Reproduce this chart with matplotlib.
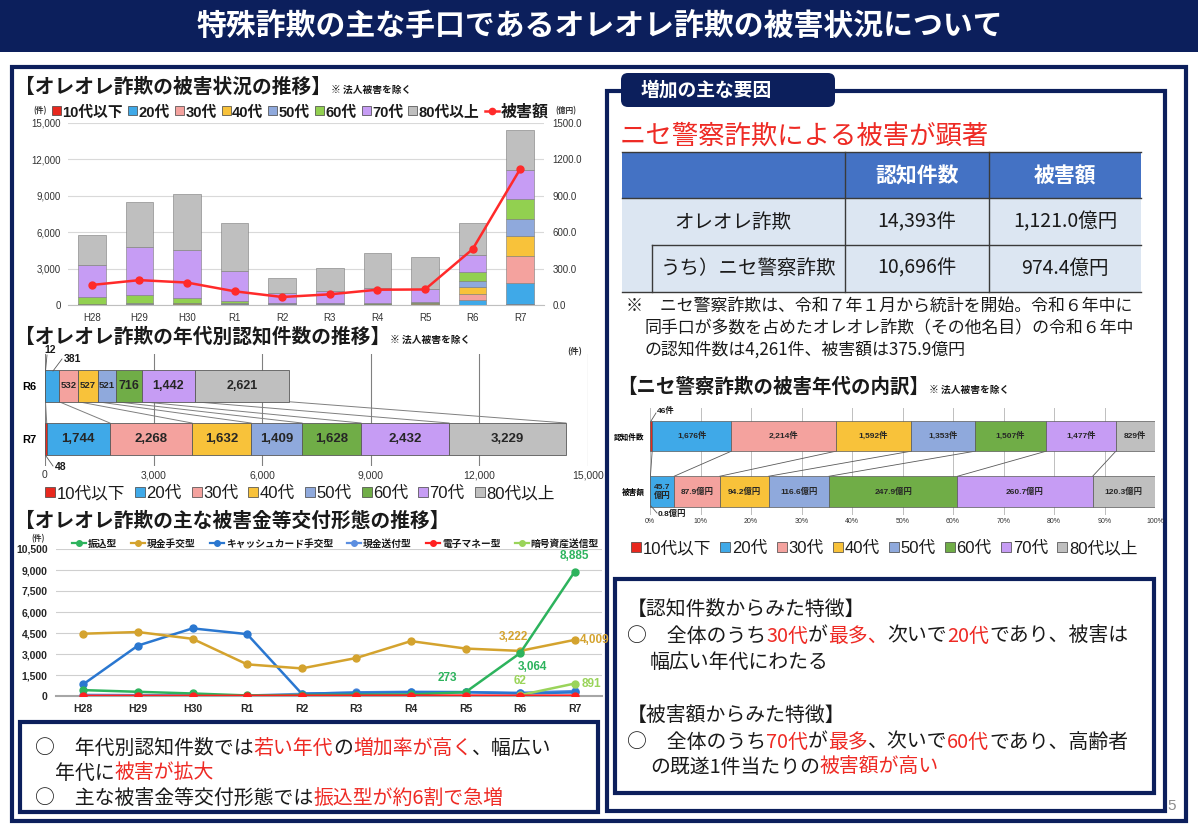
import matplotlib
matplotlib.use('Agg')
import matplotlib.pyplot as plt
from matplotlib.patches import Rectangle, FancyBboxPatch
from matplotlib.lines import Line2D
import numpy as np

JP = ['Noto Sans CJK JP', 'DejaVu Sans']
NUM = ['Liberation Sans', 'Noto Sans CJK JP', 'DejaVu Sans']
plt.rcParams['font.family'] = JP

NAVY = '#0c1f5c'
RED = '#ee2a24'

# ---------------- data ----------------
years = ['H28', 'H29', 'H30', 'R1', 'R2', 'R3', 'R4', 'R5', 'R6', 'R7']
age_labels = ['10代以下', '20代', '30代', '40代', '50代', '60代', '70代', '80代以上']
age10 = [5, 5, 10, 10, 10, 10, 10, 10, 12, 48]
age20 = [10, 15, 40, 30, 30, 30, 20, 40, 381, 1744]
age30 = [15, 20, 40, 30, 30, 30, 20, 40, 532, 2268]
age40 = [20, 30, 40, 30, 25, 25, 20, 40, 527, 1632]
age50 = [40, 110, 70, 40, 30, 30, 30, 50, 521, 1409]
age60 = [600, 650, 380, 190, 80, 80, 60, 70, 716, 1628]
age70 = [2610, 3930, 3960, 2440, 795, 925, 1220, 1080, 1442, 2432]
age80 = [2480, 3720, 4600, 3970, 1260, 1955, 2910, 2590, 2621, 3229]
damage_oku = [165, 205, 185, 113, 66, 88, 126, 128, 460, 1121.0]

r6_counts = [12, 381, 532, 527, 521, 716, 1442, 2621]
r7_counts = [48, 1744, 2268, 1632, 1409, 1628, 2432, 3229]

pay_labels = ['振込型', '現金手交型', 'キャッシュカード手交型', '現金送付型', '電子マネー型', '暗号資産送信型']
furikomi = [420, 300, 180, 40, 70, 90, 110, 273, 3064, 8885]
genkin_teko = [4450, 4570, 4085, 2260, 1970, 2715, 3920, 3390, 3222, 4009]
cashcard = [840, 3600, 4830, 4420, 170, 230, 270, 270, 180, 260]
genkin_sofu = [80, 60, 40, 30, 150, 260, 300, 280, 230, 350]
emoney = [10, 10, 10, 10, 20, 20, 30, 30, 20, 30]
crypto = [np.nan] * 8 + [62, 891]

nise_rows = ['認知件数', '被害額']
nise_counts = [46, 1676, 2214, 1592, 1353, 1507, 1477, 829]
nise_damage = [0.8, 45.7, 87.9, 94.2, 116.6, 247.9, 260.7, 120.3]

table_cols = ['認知件数', '被害額']
table_rows = ['オレオレ詐欺', 'うち）ニセ警察詐欺']
table_counts = ['14,393件', '10,696件']
table_damage = ['1,121.0億円', '974.4億円']

age_colors1 = ['#e8281e', '#3fa9e8', '#f4a29e', '#f8c23a', '#8fa9dc', '#92d050', '#c69cf4', '#bfbfbf']
age_colors2 = ['#e8281e', '#3fa9e8', '#f4a29e', '#f8c23a', '#8fa9dc', '#70ad47', '#c69cf4', '#bfbfbf']
pay_colors = ['#2db35d', '#d4a32e', '#2a77d0', '#5b8ee0', '#ff2020', '#9ad45a']

# ---------------- figure ----------------
W, H = 1198, 830
fig = plt.figure(figsize=(W / 100, H / 100), dpi=100)
fig.patch.set_facecolor('white')
R = fig.canvas.get_renderer()


def axpx(x0, y0, x1, y1):
    return fig.add_axes([x0 / W, 1 - y1 / H, (x1 - x0) / W, (y1 - y0) / H])


def clean(ax):
    for s in ax.spines.values():
        s.set_visible(False)
    ax.patch.set_alpha(0)


bg = axpx(0, 0, W, H)
bg.set_xlim(0, W); bg.set_ylim(H, 0); bg.axis('off')

# title bar
bg.add_patch(Rectangle((0, 0), W, 52, facecolor=NAVY, edgecolor='none'))
# frames
bg.add_patch(Rectangle((12, 67), 1174, 754, facecolor='none', edgecolor=NAVY, lw=3))
bg.add_patch(Rectangle((607, 91), 558, 720, facecolor='none', edgecolor=NAVY, lw=3))
bg.add_patch(FancyBboxPatch((621, 73), 214, 34, boxstyle='round,pad=0,rounding_size=7',
                            facecolor=NAVY, edgecolor='none'))
# bottom boxes
bg.add_patch(Rectangle((20, 722), 578, 90, facecolor='white', edgecolor=NAVY, lw=3))
bg.add_patch(Rectangle((615, 579), 539, 214, facecolor='white', edgecolor=NAVY, lw=3))

# table
tx = [622, 845, 989, 1141]
ty = [152, 198, 245, 292]
bg.add_patch(Rectangle((tx[0], ty[0]), tx[3] - tx[0], ty[1] - ty[0], facecolor='#4472c4', edgecolor='none'))
bg.add_patch(Rectangle((tx[0], ty[1]), tx[3] - tx[0], ty[3] - ty[1], facecolor='#dce6f2', edgecolor='none'))
lc = '#3a3a3a'
for yy in [ty[0], ty[1], ty[3]]:
    bg.plot([tx[0], tx[3]], [yy, yy], color=lc, lw=1)
bg.plot([652, tx[3]], [ty[2], ty[2]], color=lc, lw=1)
bg.plot([652, 652], [ty[2], ty[3]], color=lc, lw=1)
for xx in [tx[1], tx[2]]:
    bg.plot([xx, xx], [ty[0], ty[3]], color=lc, lw=1)

# ---------------- chart 1: stacked bars + damage line ----------------
ax1 = axpx(68, 123, 544, 305)
clean(ax1)
xi = np.arange(len(years))
bottom = np.zeros(len(years))
for vals, col in zip([age10, age20, age30, age40, age50, age60, age70, age80], age_colors1):
    ax1.bar(xi, vals, 0.58, bottom=bottom, color=col, edgecolor='#7a7a7a', linewidth=0.4, zorder=3)
    bottom += np.array(vals)
ax1.set_xlim(-0.5, 9.5)
ax1.set_ylim(0, 15000)
ax1.set_yticks(range(0, 15001, 3000))
ax1.set_yticklabels([f'{v:,}' for v in range(0, 15001, 3000)])
ax1.set_xticks(xi)
ax1.set_xticklabels(years)
ax1.grid(axis='y', color='#d9d9d9', lw=0.8, zorder=0)
ax1.set_axisbelow(True)
ax1.spines['bottom'].set_visible(True)
ax1.spines['bottom'].set_color('#bfbfbf')
ax1.tick_params(length=0, labelsize=7, colors='#333333', labelfontfamily='Liberation Sans')
ax1.tick_params(axis='y', pad=5)
ax1.tick_params(axis='x', pad=6)
ax1b = ax1.twinx()
clean(ax1b)
ax1b.set_ylim(0, 1500)
ax1b.set_yticks(range(0, 1501, 300))
ax1b.set_yticklabels([f'{v:.1f}' for v in range(0, 1501, 300)])
ax1b.tick_params(length=0, labelsize=7, colors='#333333', pad=6, labelfontfamily='Liberation Sans')
ax1b.plot(xi, damage_oku, color='#ff2a2a', lw=1.8, marker='o', ms=5, zorder=5)

# ---------------- chart 2: R6 / R7 horizontal stacked ----------------
ax2 = axpx(45, 354, 588, 466)
clean(ax2)
cum6 = np.cumsum(r6_counts)
cum7 = np.cumsum(r7_counts)
ax2.barh(1, r6_counts, left=cum6 - np.array(r6_counts), height=0.6, color=age_colors2,
         edgecolor='#595959', lw=0.6, zorder=3)
ax2.barh(0, r7_counts, left=cum7 - np.array(r7_counts), height=0.6, color=age_colors2,
         edgecolor='#595959', lw=0.6, zorder=3)
for c6, c7 in zip(cum6, cum7):
    ax2.plot([c6, c7], [0.7, 0.3], color='#7f7f7f', lw=0.7, zorder=2)
ax2.set_xlim(0, 15000)
ax2.set_ylim(-0.51, 1.6)
ax2.set_xticks(range(0, 15001, 3000))
ax2.set_xticklabels([f'{v:,}' for v in range(0, 15001, 3000)])
ax2.grid(axis='x', color='#808080', lw=0.8, zorder=0)
ax2.set_axisbelow(True)
ax2.set_yticks([1, 0])
ax2.set_yticklabels(['R6', 'R7'], fontweight='bold', fontsize=8, family=NUM)
ax2.tick_params(axis='x', length=0, labelsize=7.5, colors='#333333', pad=3, labelfontfamily='Liberation Sans')
ax2.tick_params(axis='y', length=0, pad=6)
r6_sizes = [0, 0, 6.8, 6.8, 6.8, 9, 9, 9]
for i in range(2, 8):
    ax2.text(cum6[i] - r6_counts[i] / 2, 1, f'{r6_counts[i]:,}', ha='center', va='center',
             fontsize=r6_sizes[i], fontweight='bold', family=NUM, color='#262626', zorder=5)
for i in range(1, 8):
    ax2.text(cum7[i] - r7_counts[i] / 2, 0, f'{r7_counts[i]:,}', ha='center', va='center',
             fontsize=9.5, fontweight='bold', family=NUM, color='#262626', zorder=5)

# ---------------- chart 3: payment methods lines ----------------
ax3 = axpx(56, 549, 602, 696)
clean(ax3)
pay_series = [furikomi, genkin_teko, cashcard, genkin_sofu, emoney, crypto]
for idx in [3, 2, 1, 0, 5, 4]:
    ax3.plot(xi, pay_series[idx], color=pay_colors[idx], lw=1.8, marker='o', ms=5, zorder=4)
ax3.set_xlim(-0.5, 9.5)
ax3.set_ylim(0, 10500)
ax3.set_yticks(range(0, 10501, 1500))
ax3.set_yticklabels([f'{v:,}' for v in range(0, 10501, 1500)])
ax3.set_xticks(xi)
ax3.set_xticklabels(years)
ax3.grid(axis='y', color='#cfcfcf', lw=0.8, zorder=0)
ax3.set_axisbelow(True)
ax3.spines['bottom'].set_visible(True)
ax3.spines['bottom'].set_color('#a6a6a6')
ax3.spines['bottom'].set_linewidth(1.5)
ax3.tick_params(length=0, labelsize=7.5, colors='#262626', labelfontfamily='Liberation Sans')
for lab in ax3.get_xticklabels() + ax3.get_yticklabels():
    lab.set_fontweight('bold')
ax3.tick_params(axis='y', pad=6)
ax3.tick_params(axis='x', pad=6)


def ann(ax, xv, yv, s, col, dx, dy, ha='center'):
    ax.annotate(s, (xv, yv), xytext=(dx, dy), textcoords='offset points', ha=ha, va='center',
                fontsize=8.5, fontweight='bold', color=col, family=NUM, zorder=6)


ann(ax3, 9, furikomi[9], f'{furikomi[9]:,}', pay_colors[0], 0, 11)
ann(ax3, 9, genkin_teko[9], f'{genkin_teko[9]:,}', pay_colors[1], 4, 0, ha='left')
ann(ax3, 8, genkin_teko[8], f'{genkin_teko[8]:,}', pay_colors[1], -5, 10)
ann(ax3, 8, furikomi[8], f'{furikomi[8]:,}', pay_colors[0], 9, -10)
ann(ax3, 7, furikomi[7], f'{furikomi[7]:,}', pay_colors[0], -13, 10)
ann(ax3, 8, crypto[8], f'{crypto[8]:,}', pay_colors[5], 0, 10)
ann(ax3, 9, crypto[9], f'{crypto[9]:,}', pay_colors[5], 5, 0, ha='left')

# ---------------- chart 4: ニセ警察詐欺 100% bars ----------------
ax4 = axpx(650, 408, 1155, 515)
clean(ax4)
fc = np.array(nise_counts) / sum(nise_counts)
fd = np.array(nise_damage) / sum(nise_damage)
cfc = np.cumsum(fc)
cfd = np.cumsum(fd)
ax4.barh(1, fc, left=cfc - fc, height=0.55, color=age_colors2, edgecolor='#595959', lw=0.5, zorder=3)
ax4.barh(0, fd, left=cfd - fd, height=0.55, color=age_colors2, edgecolor='#595959', lw=0.5, zorder=3)
for a, b in zip(cfc, cfd):
    ax4.plot([a, b], [0.725, 0.275], color='#595959', lw=0.6, zorder=2)
ax4.set_xlim(0, 1)
ax4.set_ylim(-0.42, 1.5)
ax4.set_xticks(np.linspace(0, 1, 11))
ax4.set_xticklabels([f'{int(v)}%' for v in np.linspace(0, 100, 11)])
ax4.grid(axis='x', color='#bfbfbf', lw=0.7, zorder=0)
ax4.set_axisbelow(True)
ax4.set_yticks([1, 0])
ax4.set_yticklabels(nise_rows, fontsize=5.5, fontweight='bold')
ax4.tick_params(axis='x', length=0, labelsize=5, colors='#333333', pad=2, labelfontfamily='Liberation Sans')
ax4.tick_params(axis='y', length=0, pad=4)
for i in range(1, 8):
    ax4.text(cfc[i] - fc[i] / 2, 1, f'{nise_counts[i]:,}件', ha='center', va='center', fontsize=6,
             fontweight='bold', family=NUM, color='#262626', zorder=5)
    lab = f'{nise_damage[i]}\n億円' if i == 1 else f'{nise_damage[i]}億円'
    ax4.text(cfd[i] - fd[i] / 2, 0, lab, ha='center', va='center', fontsize=6, linespacing=1.1,
             fontweight='bold', family=NUM, color='#262626', zorder=5)

# ---------------- overlay texts ----------------
ov = axpx(0, 0, W, H)
ov.set_xlim(0, W); ov.set_ylim(H, 0); ov.axis('off')
ov.set_zorder(10)


def base(yc, size):
    return yc + 0.38 * size / 0.72


def rich(x, yc, segs, ref=None):
    sz0 = ref if ref else segs[0][2]
    yb = base(yc, sz0)
    for s, c, sz, w in segs:
        t = ov.text(x, yb, s, color=c, fontsize=sz, fontweight=w, va='baseline', ha='left', family=JP)
        x += t.get_window_extent(renderer=R).width
    return x


K = '#1a1a1a'
ov.text(600, 26, '特殊詐欺の主な手口であるオレオレ詐欺の被害状況について', color='white',
        fontsize=21.5, fontweight='bold', ha='center', va='center')
ov.text(641, 90, '増加の主な要因', color='white', fontsize=13.5, fontweight='bold', ha='left', va='center')

rich(15, 85, [('【オレオレ詐欺の被害状況の推移】', K, 14.2, 'bold'), ('※ 法人被害を除く', K, 7, 'bold')])
rich(15, 335, [('【オレオレ詐欺の年代別認知件数の推移】', K, 14.2, 'bold'), ('※ 法人被害を除く', K, 7, 'bold')])
rich(15, 519, [('【オレオレ詐欺の主な被害金等交付形態の推移】', K, 14.2, 'bold')])
rich(617, 385, [('【ニセ警察詐欺の被害年代の内訳】', K, 14, 'bold'), ('※ 法人被害を除く', K, 7, 'bold')])
rich(620, 134, [('ニセ警察詐欺による被害が顕著', RED, 19, 'normal')])

# table text
ov.text((tx[1] + tx[2]) / 2, 176, table_cols[0], color='white', fontsize=15, fontweight='bold', ha='center', va='center')
ov.text((tx[2] + tx[3]) / 2, 176, table_cols[1], color='white', fontsize=15, fontweight='bold', ha='center', va='center')
ov.text(733, 222, table_rows[0], color=K, fontsize=14, ha='center', va='center')
ov.text(749, 268, table_rows[1], color=K, fontsize=14, ha='center', va='center')
for i, yc in enumerate([222, 268]):
    ov.text((tx[1] + tx[2]) / 2, yc, table_counts[i], color=K, fontsize=14, ha='center', va='center')
    ov.text((tx[2] + tx[3]) / 2, yc, table_damage[i], color=K, fontsize=14, ha='center', va='center')

# note
rich(626, 305, [('※　ニセ警察詐欺は、令和７年１月から統計を開始。令和６年中に', K, 12.2, 'normal')])
rich(645, 327, [('同手口が多数を占めたオレオレ詐欺（その他名目）の令和６年中', K, 12.2, 'normal')])
rich(645, 348, [('の認知件数は4,261件、被害額は375.9億円', K, 12.2, 'normal')])

# bottom-left box
S1 = 14.3
rich(35, 746, [('○　年代別認知件数では', K, S1, 'normal'), ('若い年代', RED, S1, 'normal'), ('の', K, S1, 'normal'),
               ('増加率が高く', RED, S1, 'normal'), ('、幅広い', K, S1, 'normal')])
rich(55, 771, [('年代に', K, S1, 'normal'), ('被害が拡大', RED, S1, 'normal')])
rich(35, 797, [('○　主な被害金等交付形態では', K, S1, 'normal'), ('振込型が約6割で急増', RED, S1, 'normal')])

# right text box
S2 = 14.3
rich(627, 607, [('【認知件数からみた特徴】', K, S2, 'normal')])
rich(627, 634, [('○　全体のうち', K, S2, 'normal'), ('30代', RED, S2, 'normal'), ('が', K, S2, 'normal'),
                ('最多、', RED, S2, 'normal'), ('次いで', K, S2, 'normal'), ('20代', RED, S2, 'normal'),
                ('であり、被害は', K, S2, 'normal')])
rich(650, 660, [('幅広い年代にわたる', K, S2, 'normal')])
rich(627, 714, [('【被害額からみた特徴】', K, S2, 'normal')])
rich(627, 740, [('○　全体のうち', K, S2, 'normal'), ('70代', RED, S2, 'normal'), ('が', K, S2, 'normal'),
                ('最多', RED, S2, 'normal'), ('、次いで', K, S2, 'normal'), ('60代', RED, S2, 'normal'),
                ('であり、高齢者', K, S2, 'normal')])
rich(650, 765, [('の既遂1件当たりの', K, S2, 'normal'), ('被害額が高い', RED, S2, 'normal')])

ov.text(1172, 806, '5', color='#8c8c8c', fontsize=11, ha='center', va='center', family=NUM)


# legends
def legend_row(x, yc, labels, colors, size, sq, gap, weight='bold'):
    for label, col in zip(labels, colors):
        ov.add_patch(Rectangle((x, yc - sq / 2), sq, sq, facecolor=col, edgecolor='#404040', lw=0.5))
        x += sq + 1.5
        t = ov.text(x, base(yc, size), label, fontsize=size, fontweight=weight, va='baseline', ha='left',
                    color=K, family=NUM)
        x += t.get_window_extent(renderer=R).width + gap
    return x


ov.text(40, 111, '(件)', fontsize=5.5, fontweight='bold', ha='center', va='center', color='#333333')
xe = legend_row(52, 111, age_labels, age_colors1, 10.6, 9, 5)
ov.add_line(Line2D([xe, xe + 14], [111, 111], color='#ff2a2a', lw=1.8))
ov.plot([xe + 7], [111], marker='o', color='#ff2a2a', ms=4.5)
t = ov.text(xe + 16, base(111, 11.5), '被害額', fontsize=11.5, fontweight='bold', va='baseline', color=K)
xe2 = xe + 16 + t.get_window_extent(renderer=R).width
ov.text(xe2 + 17, 111, '(億円)', fontsize=5.5, fontweight='bold', ha='center', va='center', color='#333333')

legend_row(45, 492, age_labels, age_colors2, 12, 10, 10, weight='normal')
legend_row(631, 547, age_labels, age_colors2, 12, 10, 9.5, weight='normal')

# chart 2 misc labels
ov.text(575, 352, '(件)', fontsize=6, fontweight='bold', ha='center', va='center', color='#333333')
ov.text(50, 350, f'{r6_counts[0]}', fontsize=7.5, fontweight='bold', ha='center', va='center', family=NUM, color=K)
ov.plot([47, 45.5], [355, 371], color='#595959', lw=0.6)
ov.text(72, 359, f'{r6_counts[1]}', fontsize=7.5, fontweight='bold', ha='center', va='center', family=NUM, color=K)
ov.plot([62, 53], [359, 371], color='#595959', lw=0.6)
ov.text(61, 467, f'{r7_counts[0]}', fontsize=7.5, fontweight='bold', ha='center', va='center', family=NUM, color=K)
ov.plot([46, 53], [456, 466], color='#595959', lw=0.6)

# chart 3 misc
ov.text(38, 539, '(件)', fontsize=5.5, fontweight='bold', ha='center', va='center', color='#333333')
xx = 72
for lab, col in zip(pay_labels, pay_colors):
    ov.add_line(Line2D([xx, xx + 14], [543, 543], color=col, lw=1.6))
    ov.plot([xx + 7], [543], marker='o', color=col, ms=4)
    t = ov.text(xx + 16, base(543, 7), lab, fontsize=7, fontweight='bold', va='baseline', color=K)
    xx += 16 + t.get_window_extent(renderer=R).width + 14

# chart 4 misc
ov.text(657, 411, f'{nise_counts[0]}件', fontsize=6, fontweight='bold', ha='left', va='center', family=NUM, color=K)
ov.plot([656, 651], [413, 421], color='#595959', lw=0.6)
ov.text(658, 514, f'{nise_damage[0]}億円', fontsize=6, fontweight='bold', ha='left', va='center', family=NUM, color=K)
ov.plot([651, 657], [506, 513], color='#595959', lw=0.6)

fig.savefig('out.png', dpi=100, facecolor='white')
